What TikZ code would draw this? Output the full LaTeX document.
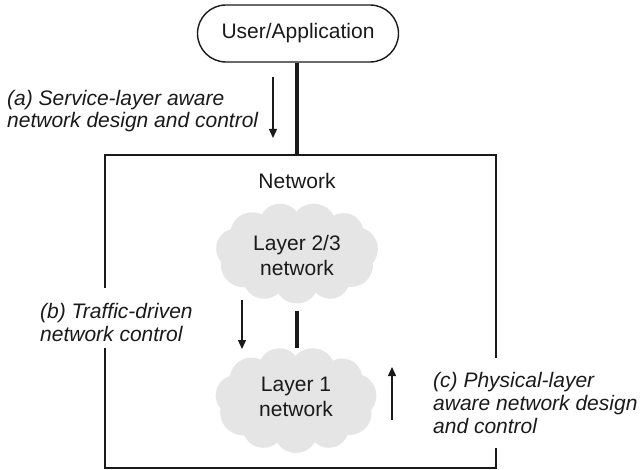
\documentclass[tikz,border=0pt]{standalone}
\usepackage{fontspec}
\setmainfont{Liberation Sans}
\usetikzlibrary{arrows.meta}
\definecolor{cloudgray}{HTML}{E5E5E5}
\definecolor{inkc}{HTML}{1A1A1A}
% cloud drawn as a union of puffs: centre x, centre y, half width, half height
\newcommand\drawmycloud[4]{%
  \begin{scope}[shift={(#1,#2)}]
    \fill[cloudgray] (0,0) ellipse [x radius=#3-18, y radius=#4-16];
    \foreach \k/\r in {0/22,1/20,2/23,3/21,4/22,5/20,6/23,7/21,8/22,9/20,10/22}{
      \pgfmathsetmacro\ang{\k*360/11+8}
      \pgfmathsetmacro\ax{#3-\r}
      \pgfmathsetmacro\by{#4-\r}
      \fill[cloudgray] (\ang:\ax pt and \by pt) circle[radius=\r pt];
    }
  \end{scope}}
\begin{document}
\begin{tikzpicture}[x=1pt,y=-1pt,
  every node/.style={font=\fontsize{21}{24}\selectfont, text=inkc},
  userbox/.style={draw=inkc, line width=1.4pt, rounded corners=28.5pt, minimum width=201pt, minimum height=57pt, inner sep=0pt},
  cloudtext/.style={align=center, inner sep=0pt, font=\fontsize{21}{25}\selectfont},
  lbl/.style={align=left, inner sep=0pt, anchor=west, font=\fontsize{21}{22.5}\selectfont\itshape},
  thickline/.style={draw=inkc, line width=4.5pt},
  thinarrow/.style={draw=inkc, line width=1.3pt, -{Triangle[length=9pt,width=8pt]}},
  boxline/.style={draw=inkc, line width=1.4pt}
]
\useasboundingbox (0,0) rectangle (642,470);

% network box (gaps on the sides for labels b and c)
\draw[boxline] (496,358) -- (496,155) -- (105,155) -- (105,288);
\draw[boxline] (105,348) -- (105,468) -- (496,468) -- (496,448);
\coordinate (boxtop) at (297,155);

\node[userbox] (user) at (298,33.5) {User/Application};
\node[inner sep=0pt] (netlbl) at (297,181) {Network};

\drawmycloud{297}{253}{81.5}{50.5}
\drawmycloud{296}{400}{81}{53}
\node[cloudtext] (l23) at (297,255) {Layer 2/3\\network};
\node[cloudtext] (l1) at (296,397) {Layer 1\\network};

\draw[thickline] (user.south -| boxtop) -- (boxtop);
\coordinate (c1) at (297,311);
\coordinate (c2) at (297,348);
\draw[thickline] (c1) -- (c2);

\node[lbl] (la) at (7,111) {(a) Service-layer aware\\network design and control};
\node[lbl] (lb) at (40,322.5) {(b) Traffic-driven\\network control};
\node[lbl, font=\fontsize{21}{23}\selectfont\itshape] (lc) at (433,403) {(c) Physical-layer\\aware network design\\and control};

\coordinate (a1) at (273,77);
\coordinate (a2) at (273,138);
\draw[thinarrow] (a1) -- (a2);
\coordinate (b1) at (242,300);
\coordinate (b2) at (242,349);
\draw[thinarrow] (b1) -- (b2);
\coordinate (cc1) at (392,420);
\coordinate (cc2) at (392,367);
\draw[thinarrow] (cc1) -- (cc2);
\end{tikzpicture}
\end{document}
